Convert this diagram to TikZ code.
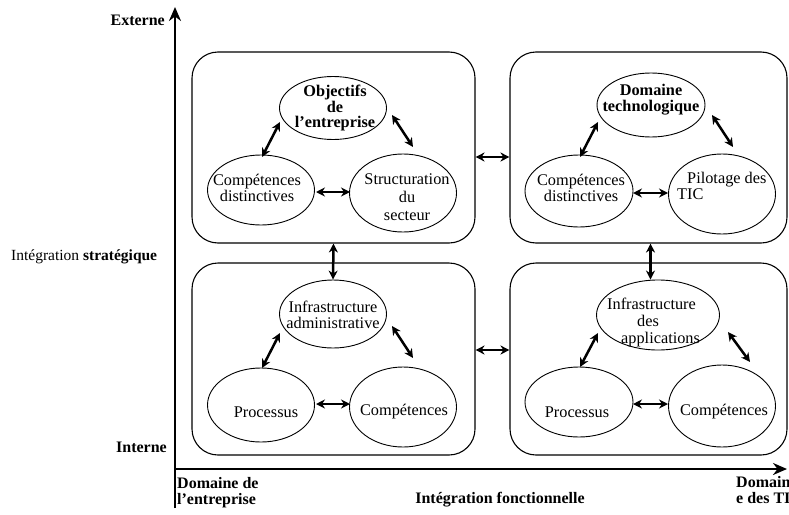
\documentclass[tikz,border=0pt]{standalone}
\usepackage{fontspec}
\setmainfont{Liberation Serif}
\usetikzlibrary{shapes.geometric,arrows.meta}
\begin{document}
\begin{tikzpicture}[x=1pt,y=-1pt,
  panel/.style={draw,line width=1.1pt,rounded corners=26pt,inner sep=0},
  bubble/.style={draw,ellipse,line width=0.9pt,inner sep=0},
  txt/.style={inner sep=0,align=center,font=\fontsize{16.3}{16}\selectfont},
  dbl/.style={line width=2.5pt,{Stealth[length=9pt,width=9pt]}-{Stealth[length=9pt,width=9pt]}},
  axis/.style={line width=2.6pt,-{Stealth[length=14pt,width=12pt]}},
  lbl/.style={font=\fontsize{16}{16}\selectfont\bfseries,inner sep=0}]
\useasboundingbox (0,0) rectangle (789,514);

% axes
\coordinate (O) at (175,508);
\coordinate (Ytop) at (175,7);
\coordinate (Xo) at (175,469);
\coordinate (Xend) at (787,469);
\draw[axis] (O) -- (Ytop);
\draw[axis] (Xo) -- (Xend);

\node[lbl,anchor=east] (ext) at (165,20) {Externe};
\node[lbl,anchor=east] (int) at (167,447) {Interne};
\node[inner sep=0,font=\fontsize{15.5}{16}\selectfont,anchor=west] (strat) at (11,257) {Intégration \textbf{stratégique}};
\node[lbl,anchor=north west,align=left] (dom1) at (177,477) {Domaine de\\l'entreprise};
\node[lbl] (fonc) at (500,500) {Intégration fonctionnelle};
\node[lbl,anchor=north west,align=left] (dom2) at (736,476) {Domain\\e des TI};

% panels
\node[panel,minimum width=283pt,minimum height=191pt] (TL) at (333.5,147.5) {};
\node[panel,minimum width=277pt,minimum height=191pt] (TR) at (648.5,147.5) {};
\node[panel,minimum width=283pt,minimum height=192pt] (BL) at (333.5,359) {};
\node[panel,minimum width=277pt,minimum height=192pt] (BR) at (648.5,359) {};

% top-left
\node[bubble,minimum width=107pt,minimum height=63pt] (Obj) at (333,108) {};
\node[bubble,minimum width=107pt,minimum height=70pt] (Cd1) at (261,190) {};
\node[bubble,minimum width=107pt,minimum height=78pt] (Str) at (403,193) {};
\node[txt,font=\fontsize{16.3}{15.5}\selectfont\bfseries] (Objt) at (335,108) {Objectifs\\de\\l'entreprise};
\node[txt] (Cd1t) at (257,188) {Compétences\\distinctives};
\node[txt] (Strt) at (407,197) {Structuration\\[2pt]du\\[2pt]secteur};

% top-right
\node[bubble,minimum width=108pt,minimum height=64pt] (Dom) at (651,105) {};
\node[bubble,minimum width=108pt,minimum height=72pt] (Cd2) at (579,191) {};
\node[bubble,minimum width=107pt,minimum height=80pt] (Pil) at (722,194) {};
\node[txt,font=\fontsize{16.3}{16}\selectfont\bfseries] (Domt) at (651,100) {Domaine\\technologique};
\node[txt] (Cd2t) at (581,188) {Compétences\\distinctives};
\node[txt,align=left,anchor=west] (Pilt) at (677,186) {\hspace*{10pt}Pilotage des\\TIC};

% bottom-left
\node[bubble,minimum width=107pt,minimum height=68pt] (InA) at (333,314) {};
\node[bubble,minimum width=107pt,minimum height=74pt] (Pr1) at (261,405) {};
\node[bubble,minimum width=107pt,minimum height=80pt] (Cp1) at (403,407) {};
\node[txt] (InAt) at (333,315) {Infrastructure\\administrative};
\node[txt] (Pr1t) at (266,412) {Processus};
\node[txt] (Cp1t) at (404,412) {Compétences};

% bottom-right
\node[bubble,minimum width=123pt,minimum height=70pt] (InB) at (658,315) {};
\node[bubble,minimum width=108pt,minimum height=70pt] (Pr2) at (579,402) {};
\node[bubble,minimum width=107pt,minimum height=82pt] (Cp2) at (722,406) {};
\node[txt,align=left,anchor=west] (InBt) at (607,322) {Infrastructure\\[1pt]\hspace*{30pt}des\\[1pt]\hspace*{14pt}applications};
\node[txt] (Pr2t) at (577,412) {Processus};
\node[txt] (Cp2t) at (724,412) {Compétences};

% inner arrows TL
\draw[dbl] ([shift={(1,-33)}]Cd1.center) -- ([shift={(-53,14)}]Obj.center);
\draw[dbl] ([shift={(59,7)}]Obj.center) -- ([shift={(10,-46)}]Str.center);
\draw[dbl] ([shift={(55,2)}]Cd1.center) -- ([shift={(-53,-1)}]Str.center);
% inner arrows TR
\draw[dbl] ([shift={(1,-34)}]Cd2.center) -- ([shift={(-53,17)}]Dom.center);
\draw[dbl] ([shift={(61,10)}]Dom.center) -- ([shift={(11,-47)}]Pil.center);
\draw[dbl] ([shift={(54,2)}]Cd2.center) -- ([shift={(-54,-1)}]Pil.center);
% inner arrows BL
\draw[dbl] ([shift={(1,-37)}]Pr1.center) -- ([shift={(-53,19)}]InA.center);
\draw[dbl] ([shift={(59,12)}]InA.center) -- ([shift={(10,-49)}]Cp1.center);
\draw[dbl] ([shift={(55,-1)}]Pr1.center) -- ([shift={(-53,-3)}]Cp1.center);
% inner arrows BR
\draw[dbl] ([shift={(1,-35)}]Pr2.center) -- ([shift={(-60,18)}]InB.center);
\draw[dbl] ([shift={(70,17)}]InB.center) -- ([shift={(28,-44)}]Cp2.center);
\draw[dbl] ([shift={(54,2)}]Pr2.center) -- ([shift={(-54,-2)}]Cp2.center);

% panel links
\draw[dbl] ([yshift=-9.5pt]TL.east) -- ([yshift=-9.5pt]TR.west);
\draw[dbl] ([yshift=9pt]BL.east) -- ([yshift=9pt]BR.west);
\draw[dbl] (TL.south) -- (InA.north);
\draw[dbl] ([xshift=2pt]TR.south) -- ([xshift=2pt]TR.south |- InB.north);
\end{tikzpicture}
\end{document}
